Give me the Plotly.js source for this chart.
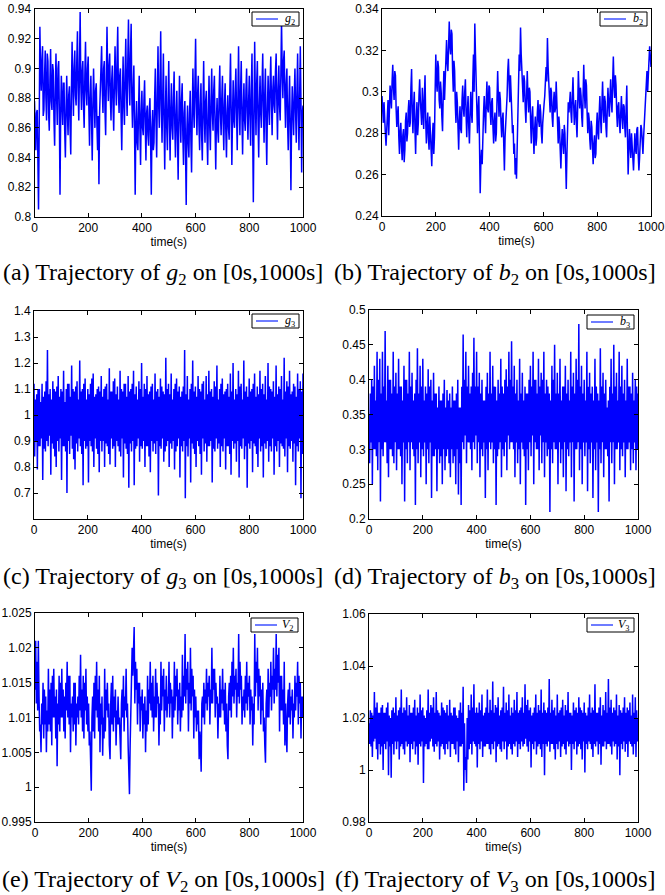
<!DOCTYPE html>
<html>
<head>
<meta charset="utf-8">
<script src="https://cdn.plot.ly/plotly-3.0.1.min.js"></script>
<style>
html,body{margin:0;padding:0;background:#fff;}
#chart{width:665px;height:895px;}
</style>
</head>
<body>
<div id="chart"></div>
<script>
// ---- Data (sampled every 2.5 s on [0s,1000s]) ----
const g2 = [
0.878,0.862,0.845,0.87,0.872,0.84,0.805,0.86,0.928,0.9,0.885,0.905,0.915,0.868,0.872,0.895,0.912,0.88,0.865,0.91,
0.905,0.87,0.858,0.892,0.913,0.878,0.872,0.903,0.898,0.865,0.848,0.885,0.91,0.88,0.862,0.9,0.905,0.87,0.815,0.87,
0.895,0.875,0.862,0.89,0.89,0.858,0.84,0.872,0.895,0.87,0.855,0.882,0.888,0.86,0.842,0.885,0.918,0.89,0.868,0.9,
0.912,0.882,0.875,0.905,0.925,0.885,0.865,0.9,0.938,0.89,0.872,0.898,0.905,0.875,0.86,0.895,0.918,0.885,0.875,0.9,
0.908,0.872,0.848,0.88,0.895,0.865,0.838,0.875,0.9,0.878,0.86,0.885,0.89,0.862,0.845,0.868,0.822,0.87,0.882,0.9,
0.915,0.885,0.87,0.9,0.905,0.872,0.855,0.89,0.928,0.895,0.878,0.902,0.91,0.88,0.865,0.892,0.902,0.875,0.858,0.89,
0.915,0.888,0.875,0.905,0.928,0.885,0.87,0.895,0.9,0.868,0.845,0.88,0.908,0.875,0.862,0.898,0.92,0.885,0.868,0.905,
0.933,0.892,0.875,0.91,0.93,0.88,0.86,0.885,0.902,0.86,0.815,0.862,0.878,0.85,0.845,0.872,0.895,0.86,0.835,0.87,
0.885,0.86,0.855,0.878,0.892,0.862,0.838,0.87,0.875,0.855,0.848,0.872,0.88,0.85,0.815,0.86,0.872,0.845,0.85,0.88,
0.9,0.865,0.84,0.882,0.915,0.875,0.86,0.89,0.925,0.875,0.85,0.88,0.91,0.865,0.832,0.87,0.895,0.86,0.845,0.875,
0.905,0.868,0.838,0.872,0.89,0.86,0.852,0.88,0.898,0.862,0.84,0.868,0.885,0.855,0.825,0.865,0.895,0.87,0.85,0.878,
0.89,0.855,0.835,0.87,0.878,0.845,0.808,0.858,0.875,0.85,0.84,0.87,0.885,0.852,0.83,0.868,0.9,0.872,0.86,0.89,
0.92,0.878,0.855,0.882,0.895,0.862,0.845,0.875,0.89,0.855,0.838,0.872,0.905,0.868,0.85,0.878,0.885,0.855,0.835,0.868,
0.895,0.862,0.845,0.878,0.9,0.87,0.858,0.885,0.895,0.86,0.832,0.865,0.88,0.858,0.85,0.882,0.902,0.87,0.855,0.88,
0.895,0.865,0.845,0.875,0.89,0.858,0.84,0.87,0.882,0.86,0.852,0.885,0.91,0.87,0.835,0.868,0.892,0.865,0.86,0.885,
0.9,0.87,0.845,0.88,0.915,0.875,0.855,0.885,0.905,0.868,0.842,0.872,0.89,0.865,0.858,0.885,0.9,0.87,0.852,0.878,
0.895,0.868,0.848,0.885,0.91,0.86,0.81,0.865,0.918,0.88,0.855,0.89,0.905,0.865,0.84,0.875,0.895,0.87,0.86,0.888,
0.91,0.875,0.85,0.882,0.9,0.86,0.835,0.872,0.895,0.875,0.862,0.89,0.908,0.878,0.855,0.885,0.895,0.875,0.87,0.898,
0.91,0.878,0.852,0.885,0.902,0.875,0.865,0.895,0.932,0.9,0.88,0.905,0.912,0.88,0.86,0.89,0.9,0.865,0.845,0.875,
0.895,0.86,0.818,0.865,0.888,0.87,0.855,0.882,0.9,0.87,0.85,0.885,0.91,0.872,0.845,0.88,0.915,0.875,0.83,0.87,
0.875];

const b2 = [
0.298,0.29,0.285,0.295,0.29,0.28,0.274,0.283,0.288,0.296,0.279,0.295,0.303,0.298,0.292,0.305,0.313,0.302,0.296,0.31,
0.308,0.292,0.283,0.289,0.293,0.278,0.27,0.281,0.285,0.274,0.267,0.279,0.282,0.266,0.272,0.286,0.29,0.276,0.28,0.291,
0.296,0.283,0.285,0.302,0.311,0.29,0.28,0.293,0.3,0.282,0.27,0.287,0.295,0.279,0.285,0.298,0.306,0.296,0.29,0.284,
0.302,0.29,0.282,0.298,0.308,0.286,0.275,0.284,0.29,0.278,0.272,0.288,0.282,0.27,0.264,0.279,0.285,0.27,0.278,0.3,
0.318,0.305,0.3,0.315,0.312,0.296,0.292,0.305,0.3,0.288,0.281,0.298,0.31,0.296,0.305,0.318,0.325,0.314,0.31,0.322,
0.334,0.322,0.318,0.33,0.328,0.31,0.3,0.315,0.31,0.294,0.285,0.3,0.295,0.283,0.272,0.286,0.293,0.282,0.28,0.296,
0.303,0.292,0.288,0.3,0.306,0.29,0.278,0.291,0.298,0.283,0.275,0.289,0.3,0.29,0.285,0.305,0.318,0.3,0.333,0.318,
0.305,0.29,0.28,0.292,0.298,0.275,0.251,0.266,0.272,0.265,0.283,0.29,0.298,0.285,0.28,0.295,0.305,0.292,0.29,0.303,
0.302,0.29,0.284,0.295,0.297,0.283,0.275,0.286,0.29,0.276,0.28,0.296,0.31,0.298,0.288,0.3,0.296,0.285,0.278,0.287,
0.29,0.275,0.262,0.278,0.284,0.29,0.298,0.31,0.316,0.305,0.295,0.308,0.302,0.29,0.28,0.284,0.27,0.275,0.26,0.268,
0.258,0.272,0.29,0.305,0.318,0.31,0.331,0.318,0.31,0.3,0.295,0.308,0.305,0.292,0.285,0.298,0.31,0.298,0.29,0.302,
0.3,0.285,0.275,0.288,0.293,0.28,0.27,0.282,0.288,0.274,0.278,0.29,0.296,0.286,0.283,0.294,0.29,0.28,0.275,0.285,
0.288,0.294,0.298,0.31,0.312,0.305,0.326,0.312,0.306,0.296,0.29,0.302,0.3,0.288,0.283,0.295,0.3,0.29,0.292,0.305,
0.296,0.285,0.275,0.288,0.283,0.272,0.263,0.275,0.282,0.276,0.27,0.284,0.28,0.268,0.253,0.27,0.285,0.295,0.29,0.298,
0.3,0.29,0.285,0.298,0.307,0.294,0.284,0.292,0.296,0.285,0.278,0.293,0.31,0.3,0.292,0.302,0.298,0.288,0.283,0.298,
0.313,0.3,0.292,0.306,0.303,0.29,0.28,0.29,0.287,0.277,0.272,0.286,0.283,0.273,0.265,0.275,0.279,0.268,0.27,0.283,
0.29,0.28,0.277,0.29,0.298,0.287,0.28,0.294,0.305,0.292,0.285,0.298,0.295,0.283,0.278,0.292,0.302,0.294,0.288,0.298,
0.306,0.295,0.29,0.305,0.317,0.303,0.297,0.308,0.303,0.29,0.283,0.293,0.295,0.285,0.28,0.29,0.298,0.288,0.282,0.294,
0.293,0.283,0.278,0.292,0.303,0.28,0.26,0.272,0.282,0.274,0.268,0.28,0.276,0.268,0.262,0.274,0.28,0.272,0.27,0.282,
0.283,0.27,0.262,0.268,0.275,0.284,0.282,0.276,0.27,0.278,0.285,0.29,0.296,0.305,0.31,0.3,0.305,0.315,0.322,0.316,
0.312];

const g3 = [
1.12,0.84,1.06,0.9,1.08,0.79,1.1,0.88,1.1,0.88,1.05,0.91,1.12,0.75,1.07,0.87,1.09,0.86,1.13,0.9,
1.25,0.88,1.08,0.92,1.1,0.77,1.06,0.89,1.13,0.87,1.1,0.84,1.09,0.8,1.11,0.9,1.15,0.86,1.07,0.91,
1.1,0.75,1.09,0.88,1.17,0.88,1.05,0.86,1.1,0.7,1.12,0.9,1.12,0.85,1.07,0.92,1.19,0.87,1.1,0.83,
1.09,0.79,1.11,0.89,1.13,0.86,1.06,0.91,1.21,0.88,1.09,0.85,1.1,0.73,1.12,0.9,1.14,0.87,1.06,0.88,
1.1,0.74,1.08,0.9,1.12,0.88,1.14,0.86,1.16,0.8,1.07,0.91,1.08,0.87,1.1,0.85,1.11,0.78,1.09,0.9,
1.15,0.86,1.07,0.9,1.1,0.8,1.11,0.89,1.12,0.88,1.06,0.85,1.18,0.81,1.09,0.91,1.09,0.87,1.13,0.88,
1.14,0.8,1.08,0.9,1.11,0.88,1.06,0.86,1.17,0.84,1.1,0.91,1.09,0.76,1.12,0.89,1.12,0.87,1.07,0.85,
1.15,0.72,1.09,0.89,1.1,0.86,1.12,0.9,1.17,0.73,1.08,0.87,1.11,0.88,1.06,0.91,1.13,0.82,1.1,0.88,
1.2,0.87,1.07,0.9,1.12,0.8,1.1,0.88,1.15,0.88,1.08,0.84,1.09,0.78,1.11,0.9,1.12,0.86,1.06,0.89,
1.16,0.85,1.09,0.9,1.1,0.69,1.07,0.88,1.14,0.87,1.11,0.91,1.09,0.82,1.08,0.86,1.22,0.88,1.1,0.9,
1.12,0.8,1.08,0.89,1.16,0.87,1.06,0.9,1.1,0.79,1.12,0.86,1.14,0.88,1.09,0.91,1.11,0.76,1.07,0.88,
1.09,0.86,1.11,0.9,1.25,0.68,1.08,0.88,1.15,0.84,1.06,0.91,1.1,0.74,1.12,0.89,1.21,0.87,1.09,0.85,
1.11,0.8,1.07,0.9,1.15,0.88,1.1,0.85,1.09,0.77,1.12,0.91,1.13,0.86,1.06,0.89,1.15,0.82,1.08,0.88,
1.17,0.88,1.09,0.9,1.1,0.74,1.07,0.87,1.13,0.86,1.11,0.91,1.19,0.87,1.06,0.89,1.1,0.8,1.12,0.88,
1.14,0.86,1.08,0.91,1.09,0.79,1.1,0.88,1.12,0.88,1.07,0.85,1.16,0.77,1.09,0.9,1.2,0.87,1.06,0.89,
1.1,0.82,1.08,0.9,1.17,0.76,1.11,0.88,1.12,0.87,1.06,0.91,1.21,0.83,1.09,0.88,1.11,0.72,1.07,0.89,
1.14,0.87,1.09,0.9,1.1,0.78,1.12,0.89,1.16,0.88,1.07,0.85,1.11,0.8,1.08,0.91,1.17,0.86,1.1,0.88,
1.12,0.76,1.08,0.89,1.15,0.87,1.06,0.9,1.2,0.82,1.11,0.88,1.1,0.86,1.09,0.91,1.13,0.77,1.07,0.88,
1.19,0.86,1.08,0.9,1.11,0.8,1.1,0.89,1.15,0.88,1.06,0.87,1.22,0.84,1.09,0.91,1.13,0.78,1.11,0.88,
1.17,0.87,1.08,0.9,1.09,0.82,1.12,0.89,1.11,0.73,1.07,0.88,1.16,0.86,1.1,0.91,1.13,0.68,1.09,0.85,
1.16];

const b3 = [
0.35,0.28,0.38,0.31,0.4,0.25,0.39,0.3,0.42,0.3,0.37,0.29,0.44,0.27,0.4,0.31,0.43,0.225,0.38,0.3,
0.44,0.29,0.39,0.31,0.47,0.31,0.37,0.28,0.42,0.26,0.4,0.3,0.4,0.3,0.38,0.29,0.44,0.28,0.39,0.31,
0.41,0.27,0.38,0.3,0.43,0.3,0.39,0.29,0.39,0.25,0.37,0.31,0.42,0.225,0.4,0.3,0.4,0.28,0.38,0.31,
0.44,0.27,0.39,0.31,0.41,0.3,0.37,0.29,0.38,0.22,0.4,0.3,0.445,0.28,0.38,0.31,0.42,0.26,0.39,0.3,
0.43,0.29,0.37,0.31,0.39,0.25,0.38,0.3,0.415,0.28,0.39,0.31,0.4,0.23,0.37,0.29,0.41,0.29,0.38,0.3,
0.38,0.24,0.36,0.3,0.39,0.28,0.37,0.29,0.37,0.25,0.38,0.3,0.4,0.27,0.36,0.29,0.385,0.3,0.37,0.28,
0.38,0.26,0.36,0.3,0.39,0.28,0.37,0.29,0.37,0.25,0.38,0.3,0.4,0.235,0.36,0.28,0.36,0.22,0.39,0.31,
0.465,0.3,0.4,0.32,0.44,0.28,0.39,0.31,0.42,0.31,0.38,0.3,0.39,0.27,0.41,0.31,0.46,0.3,0.39,0.32,
0.44,0.28,0.39,0.31,0.41,0.26,0.38,0.3,0.4,0.29,0.37,0.31,0.37,0.23,0.39,0.3,0.41,0.27,0.38,0.31,
0.44,0.3,0.38,0.31,0.42,0.28,0.39,0.3,0.39,0.22,0.37,0.29,0.4,0.3,0.38,0.31,0.43,0.26,0.39,0.3,
0.38,0.29,0.4,0.31,0.415,0.27,0.39,0.32,0.44,0.3,0.4,0.31,0.455,0.31,0.39,0.3,0.42,0.26,0.38,0.31,
0.4,0.28,0.37,0.3,0.43,0.25,0.38,0.31,0.41,0.3,0.37,0.29,0.39,0.22,0.38,0.3,0.38,0.27,0.4,0.31,
0.42,0.29,0.39,0.32,0.44,0.25,0.4,0.31,0.4,0.3,0.38,0.3,0.43,0.27,0.39,0.32,0.41,0.28,0.4,0.31,
0.44,0.26,0.38,0.31,0.4,0.29,0.39,0.3,0.38,0.21,0.37,0.3,0.42,0.28,0.4,0.31,0.45,0.3,0.38,0.3,
0.41,0.25,0.38,0.31,0.43,0.28,0.37,0.3,0.39,0.26,0.39,0.31,0.42,0.24,0.38,0.3,0.4,0.29,0.37,0.31,
0.44,0.26,0.39,0.31,0.41,0.225,0.38,0.3,0.43,0.3,0.4,0.31,0.48,0.27,0.39,0.3,0.42,0.25,0.38,0.31,
0.4,0.29,0.37,0.31,0.44,0.24,0.39,0.3,0.41,0.28,0.38,0.31,0.39,0.23,0.37,0.3,0.43,0.27,0.39,0.31,
0.38,0.21,0.37,0.3,0.445,0.28,0.39,0.31,0.41,0.26,0.38,0.3,0.4,0.3,0.36,0.29,0.37,0.225,0.39,0.31,
0.43,0.28,0.38,0.31,0.45,0.25,0.39,0.3,0.41,0.3,0.37,0.31,0.44,0.27,0.39,0.3,0.42,0.29,0.38,0.31,
0.4,0.26,0.37,0.3,0.43,0.3,0.39,0.31,0.39,0.27,0.38,0.3,0.41,0.28,0.37,0.31,0.4,0.27,0.39,0.3,
0.38];

const V2 = [
1.014,1.021,1.012,1.018,1.011,1.021,1.013,1.008,1.009,1.005,1.012,1.009,1.015,1.007,1.014,1.009,1.013,1.005,1.011,1.008,
1.017,1.009,1.014,1.008,1.015,1.006,1.016,1.01,1.017,1.01,1.013,1.007,1.014,1.003,1.012,1.009,1.016,1.008,1.015,1.01,
1.017,1.01,1.014,1.008,1.013,1.007,1.015,1.011,1.018,1.01,1.016,1.009,1.016,1.005,1.012,1.01,1.013,1.008,1.015,1.009,
1.015,1.006,1.012,1.01,1.013,1.009,1.016,1.011,1.019,1.01,1.014,1.008,1.016,1.007,1.015,1.011,1.017,1.009,1.013,1.008,
1.012,1.006,1.008,1.003,0.9995,1.01,1.013,1.008,1.015,1.007,1.016,1.011,1.018,1.01,1.014,1.008,1.016,1.005,1.012,1.009,
1.013,1.0045,1.01,1.007,1.017,1.008,1.014,1.011,1.015,1.01,1.012,1.006,1.004,1.012,1.015,1.009,1.016,1.008,1.013,1.01,
1.014,1.006,1.011,1.009,1.013,1.009,1.01,1.007,1.004,1.012,1.014,1.01,1.016,1.008,1.013,1.011,1.017,1.01,1.012,1.006,
1.002,0.999,1.006,1.01,1.013,1.02,1.016,1.019,1.023,1.012,1.018,1.014,1.017,1.009,1.015,1.012,1.015,1.008,1.013,1.011,
1.014,1.007,1.012,1.009,1.013,1.005,1.011,1.008,1.016,1.009,1.014,1.012,1.018,1.011,1.015,1.01,1.016,1.008,1.013,1.01,
1.017,1.01,1.015,1.012,1.013,1.006,1.012,1.009,1.018,1.011,1.016,1.013,1.017,1.008,1.014,1.011,1.016,1.01,1.013,1.012,
1.018,1.01,1.015,1.012,1.014,1.007,1.013,1.01,1.018,1.011,1.016,1.013,1.017,1.009,1.014,1.011,1.015,1.008,1.013,1.01,
1.019,1.011,1.016,1.013,1.022,1.012,1.017,1.014,1.018,1.008,1.015,1.012,1.02,1.011,1.017,1.013,1.016,1.007,1.014,1.01,
1.013,1.008,1.011,1.009,1.011,1.004,1.008,1.006,1.0022,1.012,1.013,1.01,1.015,1.009,1.014,1.012,1.017,1.011,1.015,1.013,
1.016,1.009,1.014,1.012,1.02,1.012,1.017,1.014,1.017,1.01,1.015,1.012,1.013,1.007,1.012,1.01,1.016,1.01,1.014,1.012,
1.017,1.011,1.014,1.009,1.015,1.008,1.012,1.006,1.004,1.013,1.015,1.011,1.016,1.01,1.018,1.013,1.02,1.012,1.016,1.014,
1.017,1.01,1.015,1.013,1.022,1.012,1.018,1.014,1.016,1.009,1.013,1.011,1.014,1.01,1.016,1.012,1.018,1.011,1.015,1.013,
1.016,1.009,1.014,1.011,1.013,1.006,1.012,1.009,1.022,1.013,1.018,1.015,1.02,1.011,1.017,1.013,1.016,1.009,1.014,1.011,
1.015,1.008,1.01,1.006,1.0035,1.012,1.014,1.01,1.017,1.01,1.015,1.013,1.018,1.011,1.016,1.014,1.02,1.012,1.017,1.014,
1.022,1.013,1.019,1.015,1.02,1.008,1.016,1.011,1.016,1.011,1.014,1.009,1.018,1.006,1.012,1.008,1.005,1.012,1.014,1.01,
1.015,1.009,1.013,1.011,1.014,1.007,1.012,1.01,1.016,1.011,1.015,1.013,1.018,1.009,1.016,1.012,1.015,1.007,1.013,1.01,
1.013];

const V3 = [
1.018,1.01,1.023,1.009,1.022,1.005,1.021,1.011,1.03,1.012,1.024,1.008,1.026,1.004,1.022,1.01,1.022,1.006,1.024,1.009,
1.025,1.0,1.022,1.01,1.022,1.008,1.024,1.011,1.026,0.998,1.021,1.009,1.02,0.997,1.023,1.01,1.024,1.006,1.022,1.011,
1.028,1.008,1.021,1.011,1.023,1.004,1.024,1.009,1.031,1.01,1.022,1.008,1.024,1.006,1.023,1.011,1.028,1.009,1.021,1.01,
1.025,1.003,1.022,1.01,1.022,1.008,1.024,1.011,1.027,1.006,1.021,1.009,1.024,1.002,1.022,1.01,1.029,1.009,1.023,1.011,
1.024,0.995,1.021,1.009,1.02,1.01,1.023,1.008,1.031,1.008,1.022,1.011,1.025,1.012,1.024,1.009,1.028,1.007,1.022,1.01,
1.03,1.009,1.023,1.011,1.022,1.004,1.021,1.009,1.026,1.01,1.024,1.008,1.023,1.006,1.022,1.01,1.025,1.008,1.021,1.011,
1.027,1.005,1.022,1.01,1.021,1.01,1.024,1.008,1.024,1.006,1.021,1.011,1.02,1.003,1.023,1.009,1.026,1.009,1.022,1.01,
1.032,0.992,1.018,1.0,1.005,0.995,1.02,1.004,1.025,1.008,1.023,1.01,1.029,1.006,1.024,1.011,1.033,1.01,1.022,1.009,
1.024,1.001,1.022,1.01,1.026,1.008,1.023,1.011,1.029,1.005,1.021,1.009,1.022,1.009,1.024,1.01,1.031,1.01,1.022,1.008,
1.027,1.006,1.023,1.01,1.034,1.008,1.022,1.011,1.025,1.003,1.024,1.009,1.028,1.01,1.021,1.008,1.023,1.007,1.024,1.011,
1.032,1.008,1.022,1.011,1.026,1.004,1.023,1.009,1.029,1.01,1.021,1.008,1.024,1.006,1.022,1.01,1.027,1.009,1.023,1.011,
1.03,1.005,1.022,1.01,1.023,1.008,1.024,1.011,1.028,1.009,1.022,1.01,1.033,1.012,1.025,1.009,1.027,1.007,1.023,1.011,
1.024,1.001,1.021,1.01,1.022,1.008,1.024,1.011,1.029,1.006,1.022,1.009,1.025,1.01,1.023,1.008,1.031,1.005,1.022,1.01,
1.026,0.998,1.023,1.01,1.022,1.009,1.024,1.011,1.035,1.007,1.022,1.01,1.027,1.01,1.023,1.008,1.024,1.004,1.021,1.01,
1.029,1.008,1.022,1.011,1.023,1.005,1.024,1.009,1.027,1.01,1.021,1.008,1.025,1.006,1.023,1.011,1.03,1.009,1.022,1.01,
1.022,1.0,1.021,1.01,1.026,1.008,1.023,1.011,1.024,1.006,1.022,1.009,1.028,1.01,1.024,1.008,1.023,1.004,1.022,1.011,
1.026,0.999,1.022,1.01,1.021,1.008,1.024,1.011,1.029,1.01,1.022,1.008,1.024,1.005,1.023,1.01,1.033,1.009,1.022,1.011,
1.022,1.006,1.024,1.01,1.028,1.002,1.021,1.009,1.025,1.009,1.023,1.011,1.03,1.008,1.022,1.01,1.035,1.01,1.024,1.009,
1.027,1.006,1.022,1.011,1.024,1.009,1.023,1.01,1.029,1.004,1.021,1.009,1.025,0.998,1.023,1.01,1.022,1.008,1.024,1.011,
1.028,1.007,1.022,1.01,1.024,1.005,1.023,1.011,1.026,1.01,1.021,1.009,1.029,1.006,1.022,1.01,1.028,1.005,1.023,1.011,
1.02];

// sample times (s)
const time = g2.map((_, i) => i * 2.5);

const xTickVals = [0, 200, 400, 600, 800, 1000];
const xTickText = ["0", "200", "400", "600", "800", "1000"];
const yTicksA = [0.8, 0.82, 0.84, 0.86, 0.88, 0.9, 0.92, 0.94];
const yTicksB = [0.24, 0.26, 0.28, 0.3, 0.32, 0.34];
const yTicksC = [0.7, 0.8, 0.9, 1, 1.1, 1.2, 1.3, 1.4];
const yTicksD = [0.2, 0.25, 0.3, 0.35, 0.4, 0.45, 0.5];
const yTicksE = [0.995, 1, 1.005, 1.01, 1.015, 1.02, 1.025];
const yTicksF = [0.98, 1, 1.02, 1.04, 1.06];

const legendNames = ["<i>g</i><sub>2</sub>", "<i>b</i><sub>2</sub>", "<i>g</i><sub>3</sub>",
                     "<i>b</i><sub>3</sub>", "<i>V</i><sub>2</sub>", "<i>V</i><sub>3</sub>"];
const captions = [
  "(a) Trajectory of <i>g</i><sub>2</sub> on [0s,1000s]",
  "(b) Trajectory of <i>b</i><sub>2</sub> on [0s,1000s]",
  "(c) Trajectory of <i>g</i><sub>3</sub> on [0s,1000s]",
  "(d) Trajectory of <i>b</i><sub>3</sub> on [0s,1000s]",
  "(e) Trajectory of <i>V</i><sub>2</sub> on [0s,1000s]",
  "(f) Trajectory of <i>V</i><sub>3</sub> on [0s,1000s]"
];

// ---- Layout geometry (pixels) ----
const W = 665, H = 895;
const boxes = [
  {x0: 34.5, x1: 303, y0: 9,   y1: 217},
  {x0: 382,  x1: 651, y0: 9,   y1: 216},
  {x0: 34,   x1: 303, y0: 311, y1: 519},
  {x0: 369,  x1: 638, y0: 310, y1: 519},
  {x0: 35,   x1: 303, y0: 613, y1: 822},
  {x0: 369,  x1: 638, y0: 614, y1: 822}
];
// legend boxes: right edge, top edge (px)
const legendPos = [
  {x: 299, y: 12}, {x: 647, y: 12},
  {x: 299, y: 314}, {x: 634, y: 315},
  {x: 298, y: 618}, {x: 634, y: 618}
];
const captionPos = [
  {x: 163, y: 274}, {x: 495, y: 274},
  {x: 163, y: 578}, {x: 495, y: 578},
  {x: 163, y: 881}, {x: 495, y: 881}
];

const series = [g2, b2, g3, b3, V2, V3];
const yRanges = [[0.8, 0.94], [0.24, 0.34], [0.6, 1.4], [0.2, 0.5], [0.995, 1.025], [0.98, 1.06]];
const yTicks = [yTicksA, yTicksB, yTicksC, yTicksD, yTicksE, yTicksF];

const px = v => v / W;
const py = v => 1 - v / H;
const tickFont = {family: "Liberation Sans, Arial, sans-serif", size: 12, color: "#000"};
const layout = {
  width: W, height: H,
  margin: {l: 0, r: 0, t: 0, b: 0},
  paper_bgcolor: "#fff", plot_bgcolor: "#fff",
  showlegend: false,
  annotations: [], shapes: [],
  font: {family: "Liberation Sans, Arial, sans-serif", color: "#000"}
};

const traces = [];
series.forEach((vals, k) => {
  const n = k === 0 ? "" : String(k + 1);
  const b = boxes[k];
  const axisCommon = {
    showline: true, linecolor: "#000", linewidth: 1, mirror: "allticks",
    ticks: "inside", ticklen: 4, tickcolor: "#000", tickwidth: 1,
    showgrid: false, zeroline: false, tickfont: tickFont, fixedrange: true
  };
  layout["xaxis" + n] = Object.assign({}, axisCommon, {
    domain: [px(b.x0), px(b.x1)], anchor: "y" + n, range: [0, 1000],
    tickmode: "array", tickvals: xTickVals, ticktext: xTickText,
    title: {text: "time(s)", font: {family: "Liberation Sans, Arial, sans-serif", size: 12, color: "#000"}, standoff: 1}
  });
  layout["yaxis" + n] = Object.assign({}, axisCommon, {
    domain: [py(b.y1), py(b.y0)], anchor: "x" + n, range: yRanges[k],
    tickmode: "array", tickvals: yTicks[k], ticktext: yTicks[k].map(String)
  });
  traces.push({
    type: "scatter", mode: "lines", x: time, y: vals,
    xaxis: "x" + n, yaxis: "y" + n, name: legendNames[k],
    line: {color: "#0000ff", width: 1.5}, hoverinfo: "skip"
  });

  // legend box (MATLAB style) drawn in paper coordinates
  const L = legendPos[k];
  const lw = 47, lh = 14;
  layout.shapes.push({
    type: "rect", xref: "paper", yref: "paper",
    x0: px(L.x - lw), x1: px(L.x), y0: py(L.y + lh), y1: py(L.y),
    line: {color: "#000", width: 1}, fillcolor: "#fff", layer: "above"
  });
  layout.shapes.push({
    type: "line", xref: "paper", yref: "paper",
    x0: px(L.x - lw + 4), x1: px(L.x - lw + 26), y0: py(L.y + lh / 2), y1: py(L.y + lh / 2),
    line: {color: "rgba(40,60,255,0.75)", width: 1.8}, layer: "above"
  });
  layout.annotations.push({
    xref: "paper", yref: "paper", x: px(L.x - 2), y: py(L.y + lh / 2),
    xanchor: "right", yanchor: "middle", showarrow: false, text: legendNames[k],
    font: {family: "Liberation Serif, Times New Roman, serif", size: 12, color: "#000"}
  });

  // sub-figure caption
  layout.annotations.push({
    xref: "paper", yref: "paper", x: px(captionPos[k].x), y: py(captionPos[k].y),
    xanchor: "center", yanchor: "middle", showarrow: false,
    text: captions[k],
    font: {family: "Liberation Serif, Times New Roman, serif", size: 24, color: "#000"}
  });
});

Plotly.newPlot("chart", traces, layout, {staticPlot: true, displayModeBar: false});
</script>
</body>
</html>
